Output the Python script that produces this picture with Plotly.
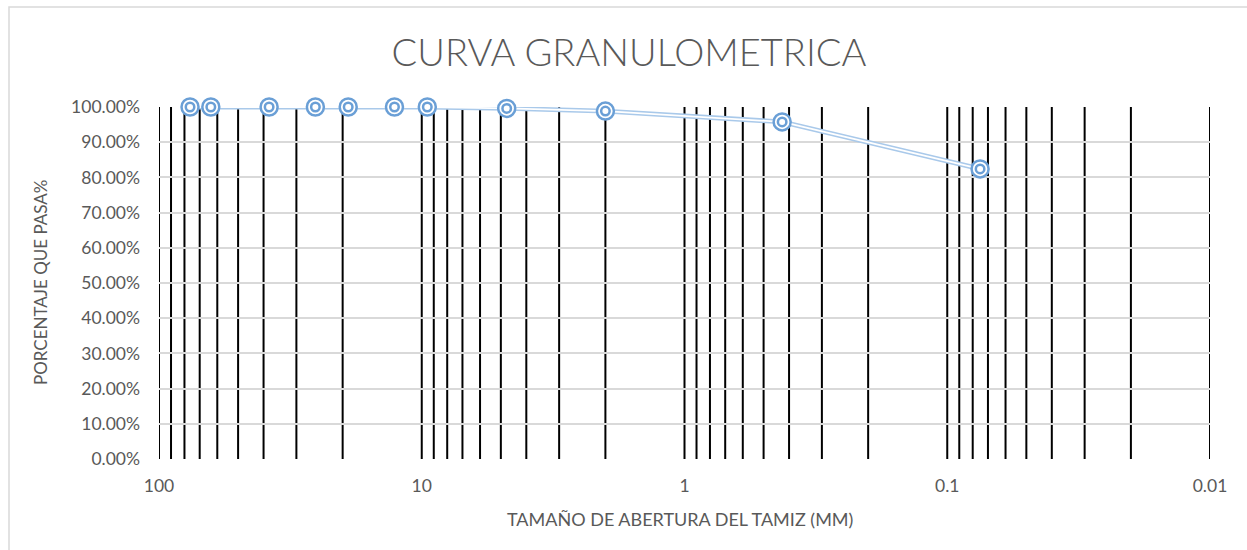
import plotly.graph_objects as go

# Sieve openings (mm) and cumulative fraction passing
aberturas_mm = [76.2, 63.5, 38.1, 25.4, 19.05, 12.7, 9.525, 4.75, 2.0, 0.425, 0.075]
porcentaje_pasa = [1.0, 1.0, 1.0, 1.0, 1.0, 1.0, 1.0, 0.996, 0.9885, 0.9577, 0.824]

# Logarithmic grid: every 1..9 multiple of each decade
decadas = [0.01, 0.1, 1, 10]
multiplos = [1, 2, 3, 4, 5, 6, 7, 8, 9]
etiquetas_decada = {100: "100", 10: "10", 1: "1", 0.1: "0.1", 0.01: "0.01"}

valores_grid = [round(d * m, 4) for d in decadas for m in multiplos] + [100]
textos_grid = [etiquetas_decada.get(v, "") for v in valores_grid]

W, H = 1247, 550
L, R, T, B = 159, 1210, 107, 459
GRIS_TEXTO = "#595959"
AZUL = "#6A9FD6"
AZUL_LINEA = "#A9C9EA"
FUENTE = "Lato"

fig = go.Figure()

# Double line: a wide light-blue stroke with a white core
fig.add_trace(go.Scatter(
    x=aberturas_mm, y=porcentaje_pasa, mode="lines",
    line=dict(color=AZUL_LINEA, width=4.8), hoverinfo="skip", cliponaxis=False,
))
fig.add_trace(go.Scatter(
    x=aberturas_mm, y=porcentaje_pasa, mode="lines",
    line=dict(color="white", width=1.8), hoverinfo="skip", cliponaxis=False,
))
# Double ring markers
fig.add_trace(go.Scatter(
    x=aberturas_mm, y=porcentaje_pasa, mode="markers",
    marker=dict(symbol="circle", size=17, color="white", line=dict(color=AZUL, width=2.5)),
    cliponaxis=False,
))
fig.add_trace(go.Scatter(
    x=aberturas_mm, y=porcentaje_pasa, mode="markers",
    marker=dict(symbol="circle-open", size=8.5, color=AZUL, line=dict(color=AZUL, width=2.5)),
    cliponaxis=False, hoverinfo="skip",
))

# Black vertical grid lines at each log multiple
shapes = [
    dict(type="line", xref="x", yref="paper", x0=v, x1=v, y0=0, y1=1,
         line=dict(color="black", width=2), layer="below")
    for v in valores_grid
]
# Chart area border
pw, ph = R - L, B - T
shapes.append(dict(
    type="rect", xref="paper", yref="paper",
    x0=(9 - L) / pw, x1=(W + 5 - L) / pw,
    y0=(B - (H + 5)) / ph, y1=(B - 7) / ph,
    line=dict(color="#D9D9D9", width=1.5), fillcolor="rgba(0,0,0,0)", layer="below",
))

fig.update_layout(
    width=W, height=H,
    margin=dict(l=L, r=W - R, t=T, b=H - B, pad=0),
    paper_bgcolor="white", plot_bgcolor="white",
    showlegend=False,
    font=dict(family=FUENTE, color=GRIS_TEXTO),
    title=dict(
        text="CURVA GRANULOMETRICA",
        font=dict(family=FUENTE, size=38, color=GRIS_TEXTO, weight=300),
        x=629 / W, xref="container", xanchor="center",
        y=1 - 53 / H, yref="container", yanchor="middle",
    ),
    shapes=shapes,
    annotations=[
        dict(text="PORCENTAJE QUE PASA%", xref="paper", yref="paper",
             x=(40 - L) / pw, y=(B - 282) / ph, xanchor="center", yanchor="middle",
             textangle=-90, showarrow=False,
             font=dict(family=FUENTE, size=17, color=GRIS_TEXTO)),
        dict(text="TAMAÑO DE ABERTURA DEL TAMIZ (MM)", xref="paper", yref="paper",
             x=(680 - L) / pw, y=(B - 519) / ph, xanchor="center", yanchor="middle",
             showarrow=False,
             font=dict(family=FUENTE, size=18, color=GRIS_TEXTO)),
    ],
)

fig.update_xaxes(
    type="log", range=[2, -2],
    tickmode="array", tickvals=valores_grid, ticktext=textos_grid,
    showgrid=False, zeroline=False, showline=False, ticks="",
    tickfont=dict(family=FUENTE, size=17.5, color=GRIS_TEXTO),
    ticklabelstandoff=14,
)
fig.update_yaxes(
    range=[0, 1], dtick=0.1, tickformat=".2%",
    showgrid=True, gridcolor="#D9D9D9", gridwidth=1.5,
    zeroline=False, showline=False, ticks="",
    tickfont=dict(family=FUENTE, size=17.5, color=GRIS_TEXTO),
    ticklabelstandoff=18,
)

fig.write_html("out.html")
